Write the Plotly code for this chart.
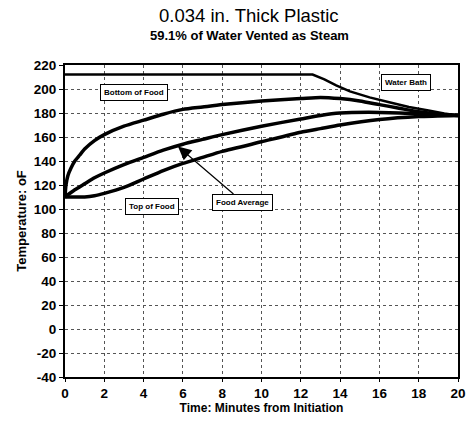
import plotly.graph_objects as go

# Time (minutes) and temperatures (°F) for each trace
t_bath = [0, 12.6, 13.2, 13.8, 14.5, 15.5, 16.5, 17.5, 18.5, 19.3, 20]
water_bath = [212, 212, 208, 203, 198, 193, 189, 185, 182, 179.5, 178]

t_bottom = [0, 0.05, 0.15, 0.3, 0.5, 0.75, 1, 1.5, 2, 3, 4, 5, 6, 7, 8, 10, 12, 13, 14, 15, 16, 17, 18, 19, 20]
bottom_food = [110, 120, 128, 134, 140, 145, 150, 157, 162, 169, 174, 179, 183, 185, 187, 190, 192, 193, 192, 190, 187, 184, 181, 179, 178]

t_avg = [0, 0.5, 1, 1.5, 2, 3, 4, 5, 6, 7, 8, 10, 12, 13, 14, 16, 18, 20]
food_average = [110, 116, 121, 126, 130, 137, 143, 149, 154, 158, 162, 169, 175, 178, 180, 180.5, 179.5, 178]

t_top = [0, 0.5, 1, 1.5, 2, 3, 4, 5, 6, 7, 8, 10, 12, 13, 14, 16, 18, 20]
top_food = [110, 110, 110, 111, 113, 118, 125, 132, 138, 143, 148, 156, 164, 167, 170, 174.5, 177, 178]

x_ticks = list(range(0, 21, 2))
y_ticks = list(range(-40, 221, 20))

FONT = "Liberation Sans, Arial"

fig = go.Figure()
fig.add_trace(go.Scatter(x=t_bath, y=water_bath, mode="lines",
                         line=dict(color="black", width=2.5), name="Water Bath"))
fig.add_trace(go.Scatter(x=t_bottom, y=bottom_food, mode="lines",
                         line=dict(color="black", width=3.5, shape="spline", smoothing=0.6),
                         name="Bottom of Food"))
fig.add_trace(go.Scatter(x=t_avg, y=food_average, mode="lines",
                         line=dict(color="black", width=3.5, shape="spline", smoothing=0.6),
                         name="Food Average"))
fig.add_trace(go.Scatter(x=t_top, y=top_food, mode="lines",
                         line=dict(color="black", width=3.5, shape="spline", smoothing=0.6),
                         name="Top of Food"))

box = dict(showarrow=False, bordercolor="black", borderwidth=1, borderpad=3,
           bgcolor="white", font=dict(family=FONT, size=8, color="black"))
annotations = [
    dict(x=3.5, y=197.5, xref="x", yref="y", text="<b>Bottom of Food</b>", **box),
    dict(x=4.45, y=102.5, xref="x", yref="y", text="<b>Top of Food</b>", **box),
    dict(x=17.35, y=205.5, xref="x", yref="y", text="<b>Water Bath</b>", **box),
    dict(x=5.75, y=152, xref="x", yref="y", ax=9.05, ay=105.8, axref="x", ayref="y",
         text="<b>Food Average</b>", showarrow=True, arrowhead=2, arrowsize=2.2,
         arrowwidth=1.2, arrowcolor="black", bordercolor="black", borderwidth=1,
         borderpad=3, bgcolor="white",
         font=dict(family=FONT, size=8, color="black")),
    dict(x=0.469, y=1.0, xref="paper", yref="paper", yanchor="bottom", yshift=37,
         text="0.034 in. Thick Plastic", showarrow=False,
         font=dict(family=FONT, size=18.5, color="black")),
    dict(x=0.469, y=1.0, xref="paper", yref="paper", yanchor="bottom", yshift=20,
         text="<b>59.1% of Water Vented as Steam</b>", showarrow=False,
         font=dict(family=FONT, size=13, color="black")),
]

axis_font = dict(family=FONT, size=13.5, color="black")
fig.update_layout(
    width=473, height=424,
    margin=dict(l=65, r=7, t=65, b=47),
    paper_bgcolor="white", plot_bgcolor="white",
    showlegend=False,
    annotations=annotations,
    xaxis=dict(range=[0, 20], tickvals=x_ticks, ticktext=[f"<b>{v}</b>" for v in x_ticks],
               showgrid=True, gridcolor="#555", griddash="dot", gridwidth=1,
               showline=True, linecolor="black", linewidth=2, mirror=True,
               ticks="outside", ticklen=3, tickcolor="black", tickfont=axis_font,
               zeroline=False,
               title=dict(text="<b>Time: Minutes from Initiation</b>", standoff=2,
                          font=dict(family=FONT, size=12, color="black"))),
    yaxis=dict(range=[-40, 220], tickvals=y_ticks, ticktext=[f"<b>{v}</b>" for v in y_ticks],
               showgrid=True, gridcolor="#555", griddash="dot", gridwidth=1,
               showline=True, linecolor="black", linewidth=2, mirror=True,
               ticks="outside", ticklen=4, tickcolor="black", tickfont=axis_font,
               zeroline=False,
               title=dict(text="<b>Temperature: oF</b>", standoff=4,
                          font=dict(family=FONT, size=13, color="black"))),
)

fig.write_html("out.html")
